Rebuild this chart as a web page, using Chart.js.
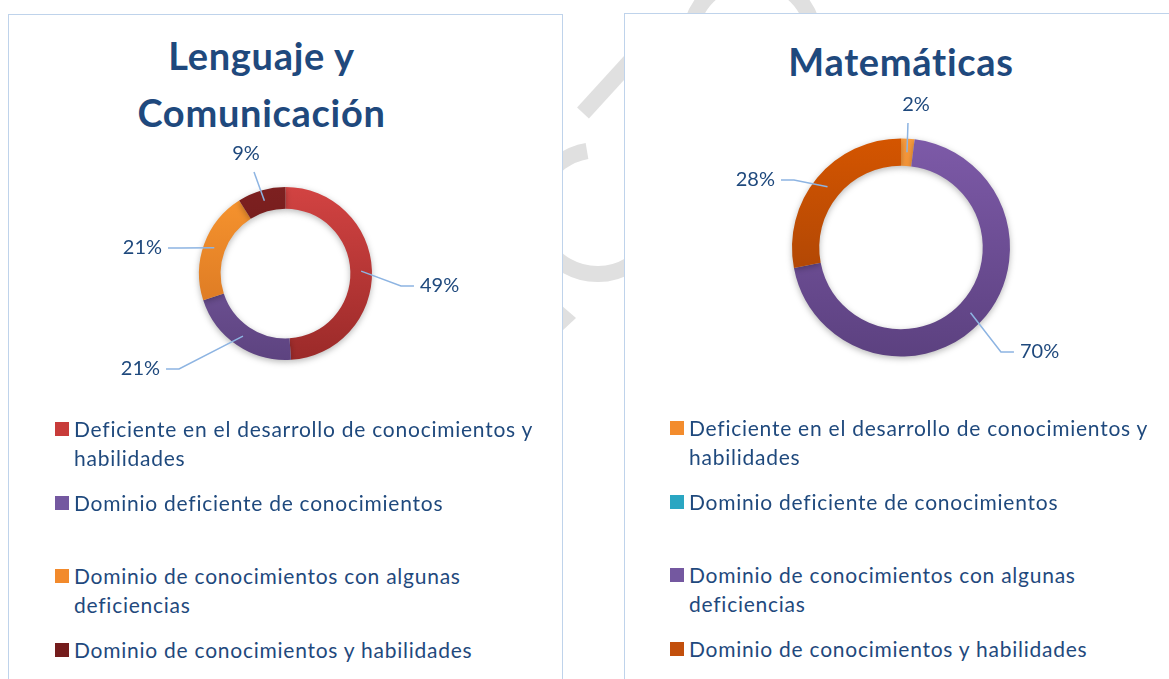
<!DOCTYPE html>
<html>
<head>
<meta charset="utf-8">
<script src="https://cdn.jsdelivr.net/npm/chart.js@4.4.1/dist/chart.umd.min.js"></script>
<style>
  body { margin: 0; width: 1169px; height: 679px; overflow: hidden; background: #fff; font-family: Lato, "Open Sans", sans-serif; position: relative; }
  #mark { position: absolute; left: 0; top: 0; }
  .panel { position: absolute; background: #fff; border: 1px solid #bfd3eb; height: 720px; }
  .title { position: absolute; left: 0; color: #1f497d; font-weight: bold; font-size: 38px; letter-spacing: 0.7px; line-height: 57px; text-align: center; }
  .panel canvas { position: absolute; }
  .legend-item { position: absolute; color: #1f497d; font-size: 21px; letter-spacing: 0.75px; line-height: 29px; width: 475px; }
  .legend-item span.box { position: absolute; width: 14px; height: 14px; top: 8px; }
</style>
</head>
<body>
<svg id="mark" width="1169" height="679">
  <g fill="none" stroke="#e0e0e0" stroke-width="16">
    <path d="M 587 151 A 62 62 0 1 0 650 245" />
    <line x1="583" y1="113" x2="645" y2="45" />
    <circle cx="752" cy="40" r="62" />
  </g>
  <polygon points="561,305 576,318 561,332" fill="#e0e0e0" />
</svg>

<div class="panel" id="p1" style="left:8px; top:14px; width:553px;">
  <div class="title" style="width:505px; top:12px;">Lenguaje y<br>Comunicación</div>
  <canvas id="chart1" width="553" height="305" style="left:0; top:106px;"></canvas>
</div>
<div class="panel" id="p2" style="left:624px; top:13px; width:600px;">
  <div class="title" style="width:552px; top:19px;">Matemáticas</div>
  <canvas id="chart2" width="552" height="333" style="left:0; top:67px;"></canvas>
</div>

<script>
const categories = [
    "Deficiente en el desarrollo de conocimientos y habilidades",
    "Dominio deficiente de conocimientos",
    "Dominio de conocimientos con algunas deficiencias",
    "Dominio de conocimientos y habilidades"
];
const lenguajeValues = [49, 21, 21, 9];
const matematicasValues = [2, 0, 70, 28];

// gradient colours, top -> bottom of the ring
const lenguajeTop = ["#d24342", "#8061a9", "#f8952f", "#7d2020"];
const lenguajeBottom = ["#9b2a29", "#5d4380", "#d2701f", "#631616"];
const lenguajeSwatch = ["#c83c3a", "#7458a0", "#f28a2c", "#741c1c"];

const matTop = ["#f89a3c", "#33b3cf", "#7d5aa8", "#d45500"];
const matBottom = ["#dd7a2a", "#218fa8", "#5c4180", "#9c3f08"];
const matSwatch = ["#f38c2d", "#2aa6c2", "#7458a0", "#c24f0c"];

const leaderLabels = {
    id: "leaderLabels",
    beforeDatasetsDraw(chart) {
        const ctx = chart.ctx;
        ctx.save();
        ctx.shadowColor = "rgba(0,0,0,0.28)";
        ctx.shadowBlur = 6;
        ctx.shadowOffsetY = 2;
    },
    afterDatasetsDraw(chart, args, opts) {
        const ctx = chart.ctx;
        ctx.restore();
        const meta = chart.getDatasetMeta(0);
        const values = chart.data.datasets[0].data;
        ctx.save();
        ctx.font = "20px Lato";
        ctx.fillStyle = "#1f497d";
        ctx.strokeStyle = "#8db4e2";
        ctx.lineWidth = 1.5;
        meta.data.forEach((arc, i) => {
            if (!values[i]) return;
            const mid = (arc.startAngle + arc.endAngle) / 2;
            const r0 = (arc.innerRadius + arc.outerRadius) / 2;
            const x0 = arc.x + Math.cos(mid) * r0;
            const y0 = arc.y + Math.sin(mid) * r0;
            const e = opts.elbows[i];
            const x1 = arc.x + e[0] * arc.outerRadius;
            const y1 = arc.y + e[1] * arc.outerRadius;
            const label = values[i] + "%";
            ctx.beginPath();
            ctx.moveTo(x0, y0);
            ctx.lineTo(x1, y1);
            if (Math.abs(e[0]) < 0.4) {
                ctx.stroke();
                ctx.textAlign = "center";
                ctx.textBaseline = "middle";
                ctx.fillText(label, x1 + Math.sign(x1 - x0) * 8, y1 - 18);
            } else {
                const s = Math.sign(e[0]);
                ctx.lineTo(x1 + s * 13, y1);
                ctx.stroke();
                ctx.textAlign = s > 0 ? "left" : "right";
                ctx.textBaseline = "middle";
                ctx.fillText(label, x1 + s * 19, y1);
            }
        });
        ctx.restore();
    }
};

function gradientFill(tops, bottoms, radius) {
    return (c) => {
        const area = c.chart.chartArea;
        if (!area) return tops[c.dataIndex];
        const cy = (area.top + area.bottom) / 2;
        const g = c.chart.ctx.createLinearGradient(0, cy - radius, 0, cy + radius);
        g.addColorStop(0, tops[c.dataIndex]);
        g.addColorStop(1, bottoms[c.dataIndex]);
        return g;
    };
}

function makeDonut(canvasId, values, tops, bottoms, radius, elbows) {
    return new Chart(document.getElementById(canvasId).getContext("2d"), {
        type: "doughnut",
        data: {
            labels: categories,
            datasets: [{
                data: values,
                backgroundColor: gradientFill(tops, bottoms, radius),
                borderWidth: 0,
                hoverOffset: 0
            }]
        },
        options: {
            responsive: false,
            animation: false,
            events: [],
            radius: radius,
            cutout: "75%",
            layout: { padding: 0 },
            plugins: {
                legend: { display: false },
                tooltip: { enabled: false },
                leaderLabels: { elbows: elbows }
            }
        },
        plugins: [leaderLabels]
    });
}

function makeLegend(panelId, swatches, left) {
    const panel = document.getElementById(panelId);
    categories.forEach((name, i) => {
        const item = document.createElement("div");
        item.className = "legend-item";
        item.style.left = left + "px";
        item.style.top = (399 + i * 73.7) + "px";
        const box = document.createElement("span");
        box.className = "box";
        box.style.left = "-19px";
        box.style.background = swatches[i];
        item.appendChild(box);
        item.appendChild(document.createTextNode(name));
        panel.appendChild(item);
    });
}

makeDonut("chart1", lenguajeValues, lenguajeTop, lenguajeBottom, 86.5,
    [[1.335, 0.145], [-1.231, 1.104], [-1.208, -0.295], [-0.364, -1.173]]);
makeDonut("chart2", matematicasValues, matTop, matBottom, 109,
    [[0.064, -1.142], [0, 0], [0.917, 0.959], [-0.982, -0.619]]);

makeLegend("p1", lenguajeSwatch, 65);
makeLegend("p2", matSwatch, 64);
</script>
</body>
</html>
